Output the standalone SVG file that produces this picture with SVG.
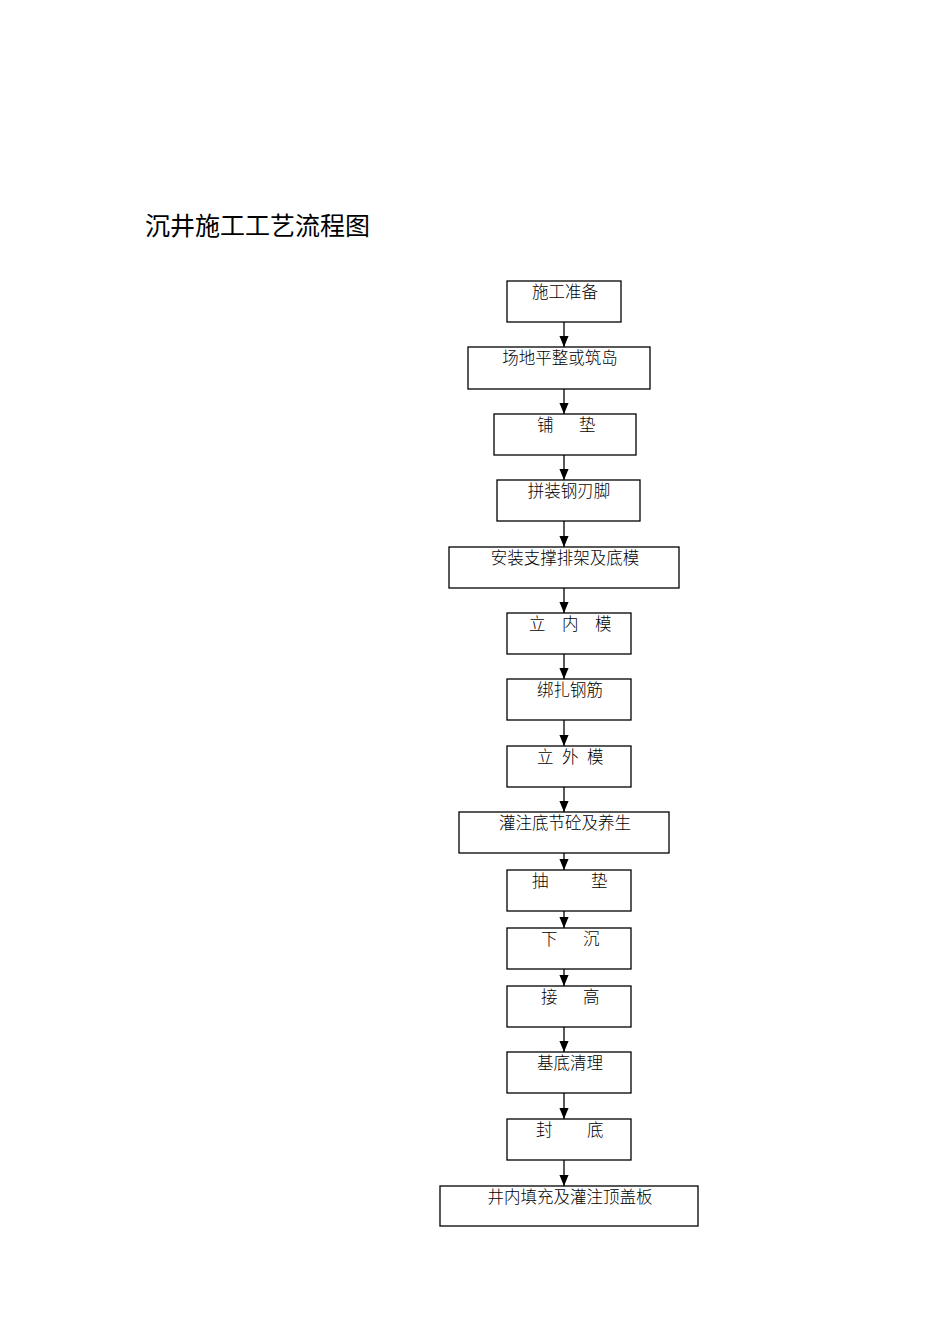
<svg xmlns="http://www.w3.org/2000/svg" width="950" height="1344" viewBox="0 0 950 1344">
<style>
.box{fill:#fff;stroke:#000;stroke-width:1.3}
.t{font-family:"Liberation Serif","Noto Sans CJK SC",serif;font-size:16.5px;font-weight:300;fill:#000}
.c{text-anchor:middle}
.title{font-family:"Liberation Sans","Noto Sans CJK SC",sans-serif;font-size:25px;fill:#000}
.ln{stroke:#000;stroke-width:1.3;fill:none}
</style>
<defs>
<marker id="ah" viewBox="0 0 12 10" refX="12" refY="5" markerWidth="11" markerHeight="10" markerUnits="userSpaceOnUse" orient="auto">
<path d="M0,0 L12,5 L0,10 z" fill="#000"/>
</marker>
</defs>
<rect width="950" height="1344" fill="#fff"/>
<text class="title" x="145" y="235">沉井施工工艺流程图</text>
<g id="connectors">
<line class="ln" x1="564" y1="322" x2="564" y2="347" marker-end="url(#ah)"/>
<line class="ln" x1="564" y1="389" x2="564" y2="414" marker-end="url(#ah)"/>
<line class="ln" x1="564" y1="455" x2="564" y2="480" marker-end="url(#ah)"/>
<line class="ln" x1="564" y1="521" x2="564" y2="547" marker-end="url(#ah)"/>
<line class="ln" x1="564" y1="588" x2="564" y2="613" marker-end="url(#ah)"/>
<line class="ln" x1="564" y1="654" x2="564" y2="679" marker-end="url(#ah)"/>
<line class="ln" x1="564" y1="720" x2="564" y2="746" marker-end="url(#ah)"/>
<line class="ln" x1="564" y1="787" x2="564" y2="812" marker-end="url(#ah)"/>
<line class="ln" x1="564" y1="853" x2="564" y2="870" marker-end="url(#ah)"/>
<line class="ln" x1="564" y1="911" x2="564" y2="928" marker-end="url(#ah)"/>
<line class="ln" x1="564" y1="969" x2="564" y2="986" marker-end="url(#ah)"/>
<line class="ln" x1="564" y1="1027" x2="564" y2="1052" marker-end="url(#ah)"/>
<line class="ln" x1="564" y1="1093" x2="564" y2="1119" marker-end="url(#ah)"/>
<line class="ln" x1="564" y1="1160" x2="564" y2="1186" marker-end="url(#ah)"/>
</g>
<g id="n1"><rect class="box" x="507" y="281" width="114" height="41"/><text class="t c" x="565" y="298">施工准备</text></g>
<g id="n2"><rect class="box" x="468" y="347" width="182" height="42"/><text class="t c" x="560" y="364">场地平整或筑岛</text></g>
<g id="n3"><rect class="box" x="494" y="414" width="142" height="41"/><text class="t" x="537" y="431">铺</text><text class="t" x="579" y="431">垫</text></g>
<g id="n4"><rect class="box" x="497" y="480" width="143" height="41"/><text class="t c" x="569" y="497">拼装钢刃脚</text></g>
<g id="n5"><rect class="box" x="449" y="547" width="230" height="41"/><text class="t c" x="565" y="564">安装支撑排架及底模</text></g>
<g id="n6"><rect class="box" x="507" y="613" width="124" height="41"/><text class="t" x="529" y="630">立</text><text class="t" x="562" y="630">内</text><text class="t" x="595" y="630">模</text></g>
<g id="n7"><rect class="box" x="507" y="679" width="124" height="41"/><text class="t c" x="570" y="696">绑扎钢筋</text></g>
<g id="n8"><rect class="box" x="507" y="746" width="124" height="41"/><text class="t" x="537" y="763">立</text><text class="t" x="562" y="763">外</text><text class="t" x="587" y="763">模</text></g>
<g id="n9"><rect class="box" x="459" y="812" width="210" height="41"/><text class="t c" x="565" y="829">灌注底节砼及养生</text></g>
<g id="n10"><rect class="box" x="507" y="870" width="124" height="41"/><text class="t" x="532" y="887">抽</text><text class="t" x="591" y="887">垫</text></g>
<g id="n11"><rect class="box" x="507" y="928" width="124" height="41"/><text class="t" x="541" y="945">下</text><text class="t" x="583" y="945">沉</text></g>
<g id="n12"><rect class="box" x="507" y="986" width="124" height="41"/><text class="t" x="541" y="1003">接</text><text class="t" x="583" y="1003">高</text></g>
<g id="n13"><rect class="box" x="507" y="1052" width="124" height="41"/><text class="t c" x="570" y="1069">基底清理</text></g>
<g id="n14"><rect class="box" x="507" y="1119" width="124" height="41"/><text class="t" x="536" y="1136">封</text><text class="t" x="587" y="1136">底</text></g>
<g id="n15"><rect class="box" x="440" y="1186" width="258" height="40"/><text class="t c" x="570" y="1203">井内填充及灌注顶盖板</text></g>
</svg>
